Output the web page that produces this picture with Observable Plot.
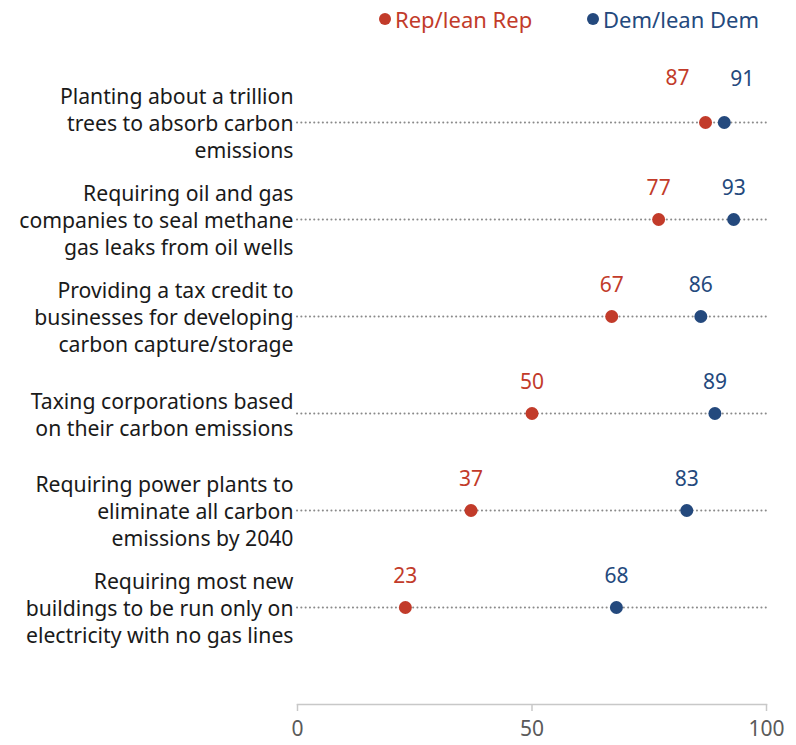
<!DOCTYPE html>
<html>
<head>
<meta charset="utf-8">
<script src="https://cdn.jsdelivr.net/npm/d3@7"></script>
<script src="https://cdn.jsdelivr.net/npm/@observablehq/plot@0.6"></script>
<style>
  html, body { margin: 0; padding: 0; background: #fff; }
  body { width: 796px; font-family: "Noto Sans", sans-serif; }
  #legend { position: relative; height: 40px; font-size: 22px; }
  .item { position: absolute; top: 4px; display: flex; align-items: center; white-space: nowrap; }
  .sw { width: 12px; height: 12px; border-radius: 50%; margin-right: 4px; }
</style>
</head>
<body>
<div id="legend"></div>
<div id="chart"></div>
<script>
const categories = [
  "Planting about a trillion\ntrees to absorb carbon\nemissions",
  "Requiring oil and gas\ncompanies to seal methane\ngas leaks from oil wells",
  "Providing a tax credit to\nbusinesses for developing\ncarbon capture/storage",
  "Taxing corporations based\non their carbon emissions",
  "Requiring power plants to\neliminate all carbon\nemissions by 2040",
  "Requiring most new\nbuildings to be run only on\nelectricity with no gas lines"
];
const repValues = [87, 77, 67, 50, 37, 23];
const demValues = [91, 93, 86, 89, 83, 68];
const seriesNames = ["Rep/lean Rep", "Dem/lean Dem"];
const seriesColors = ["#c23b2a", "#24497d"];
const xTicks = [0, 50, 100];

const rows = [];
categories.forEach((c, i) => {
  rows.push({cat: c, idx: i, party: seriesNames[0], value: repValues[i]});
  rows.push({cat: c, idx: i, party: seriesNames[1], value: demValues[i]});
});

// legend
const legend = document.getElementById("legend");
const legendPos = [379, 587];
seriesNames.forEach((n, i) => {
  const el = document.createElement("div");
  el.className = "item";
  el.style.left = legendPos[i] + "px";
  el.style.color = seriesColors[i];
  el.innerHTML = `<span class="sw" style="background:${seriesColors[i]}"></span>${n}`;
  legend.appendChild(el);
});

const chart = Plot.plot({
  width: 796,
  height: 705,
  marginLeft: 297,
  marginRight: 30,
  marginTop: 20,
  marginBottom: 41,
  style: {fontFamily: "Noto Sans, sans-serif", background: "#fff"},
  x: {domain: [0, 100]},
  y: {type: "point", domain: categories, range: [82, 567], padding: 0, axis: null},
  color: {domain: seriesNames, range: seriesColors},
  marks: [
    Plot.ruleY(categories, {
      y: d => d, x1: 0, x2: 100,
      stroke: "#8a8a8a", strokeWidth: 2, strokeLinecap: "round",
      strokeDasharray: "0.1 4.2"
    }),
    Plot.frame({anchor: "bottom", stroke: "#c8c8c8", strokeWidth: 1.5}),
    Plot.axisX({
      ticks: xTicks, tickSize: 7, tickPadding: 10,
      stroke: "#c8c8c8", fontSize: 21, color: "#5a5a5a", label: null,
      strokeWidth: 1.5
    }),
    Plot.text(categories, {
      x: () => 0, y: d => d, text: d => d,
      textAnchor: "end", dx: -4, fontSize: 21.2, lineHeight: 1.27,
      fill: "#1a1a1a"
    }),
    Plot.dot(rows, {x: "value", y: "cat", fill: "party", r: 6.5, stroke: "none"}),
    Plot.text(rows.filter(d => d.idx === 0 && d.party === seriesNames[0]), {
      x: "value", y: "cat", text: d => String(d.value), fill: "party",
      fontSize: 21, dy: -44, dx: -28
    }),
    Plot.text(rows.filter(d => d.idx === 0 && d.party === seriesNames[1]), {
      x: "value", y: "cat", text: d => String(d.value), fill: "party",
      fontSize: 21, dy: -43, dx: 18
    }),
    Plot.text(rows.filter(d => d.idx !== 0), {
      x: "value", y: "cat", text: d => String(d.value), fill: "party",
      fontSize: 21, dy: -31
    })
  ]
});
document.getElementById("chart").appendChild(chart);
</script>
</body>
</html>
